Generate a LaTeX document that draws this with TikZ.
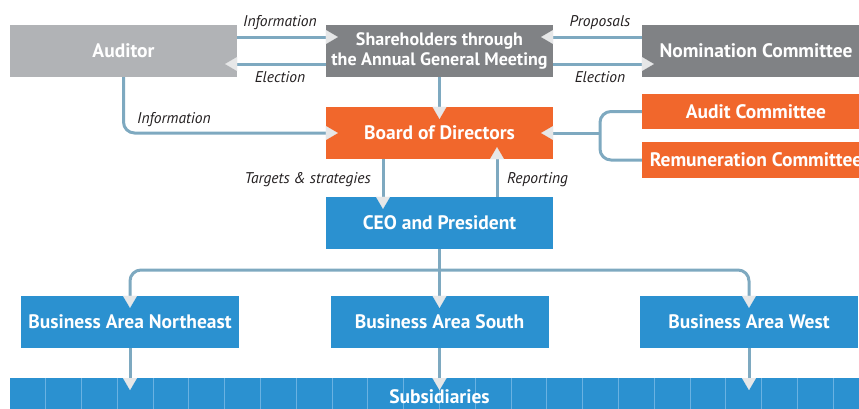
\documentclass[tikz,border=0pt]{standalone}
\usepackage{fontspec}
\setmainfont{PT Sans}
\usetikzlibrary{arrows.meta}

\definecolor{paleGray}{HTML}{B1B3B6}
\definecolor{darkGray}{HTML}{808285}
\definecolor{boardOrange}{HTML}{F1672C}
\definecolor{opsBlue}{HTML}{2B91D0}
\definecolor{linkBlue}{HTML}{7EA9C0}
\definecolor{tipGray}{HTML}{E6E7E8}
\definecolor{labelInk}{HTML}{231F20}
\definecolor{seamBlue}{HTML}{6AB2E2}

\tikzset{
  box/.style={draw=none, minimum height=52pt, inner sep=0pt, text=white,
    font=\fontsize{19.5}{20}\selectfont\bfseries, align=center},
  link/.style={draw=linkBlue, line width=3pt,
    -{Triangle[length=12pt,width=14pt,line width=0.1pt,fill=tipGray,color=tipGray]},
    shorten >=-12pt},
  plain/.style={draw=linkBlue, line width=3pt},
  tag/.style={text=labelInk, font=\fontsize{15.5}{17}\selectfont\itshape, inner sep=0pt}
}

\begin{document}
\begin{tikzpicture}[x=1pt, y=-1pt]
  \clip (0,0) rectangle (859,408);

  % governance level
  \node[box, fill=paleGray, minimum width=227pt] (auditor) at (123.5,51) {Auditor};
  \node[box, fill=darkGray, minimum width=227pt, font=\fontsize{18}{20}\selectfont\bfseries] (share) at (439.5,51)
    {Shareholders through\\the Annual General Meeting};
  \node[box, fill=darkGray, minimum width=228pt] (nom) at (756,51) {Nomination Committee};
  \node[box, fill=boardOrange, minimum width=227pt] (board) at (439.5,133) {Board of Directors};
  \node[box, fill=boardOrange, minimum width=228pt, minimum height=35pt] (audit) at (756,111.5) {Audit Committee};
  \node[box, fill=boardOrange, minimum width=228pt, minimum height=36pt] (remun) at (756,160) {Remuneration Committee};

  % operational level
  \node[box, fill=opsBlue, minimum width=227pt] (ceo) at (439.5,223) {CEO and President};
  \node[box, fill=opsBlue, minimum width=218pt] (bne) at (130,322) {Business Area Northeast};
  \node[box, fill=opsBlue, minimum width=218pt] (bs) at (439.5,322) {Business Area South};
  \node[box, fill=opsBlue, minimum width=218pt] (bw) at (749,322) {Business Area West};

  % subsidiaries band with its cell seams
  \node[box, fill=opsBlue, minimum width=860pt, minimum height=40pt, anchor=north west] (subs) at (10,378) {};
  \foreach \k in {0,...,22}
    \draw[seamBlue, line width=1pt] ({45.7+35.8*\k},378) -- ({45.7+35.8*\k},410);
  \node[box, minimum height=0pt] (substext) at (439.5,397) {Subsidiaries};

  % connectors between auditor, shareholders and nomination committee
  \draw[link] ([yshift=14pt]auditor.east) -- ([yshift=14pt]share.west);
  \draw[link] ([yshift=-13pt]share.west) -- ([yshift=-13pt]auditor.east);
  \draw[link] ([yshift=14pt]nom.west) -- ([yshift=14pt]share.east);
  \draw[link] ([yshift=-13pt]share.east) -- ([yshift=-13pt]nom.west);
  \draw[link] (share.south) -- (board.north);
  \draw[link, rounded corners=11pt] (auditor.south) |- (board.west);

  % committees bracket
  \coordinate (bracket) at (600,133);
  \draw[plain, rounded corners=11pt] (audit.west) -| (bracket) |- (remun.west);
  \draw[link] (bracket) -- (board.east);

  % board and CEO
  \draw[link] ([xshift=-56.5pt]board.south) -- ([xshift=-56.5pt]ceo.north);
  \draw[link] ([xshift=57.5pt]ceo.north) -- ([xshift=57.5pt]board.south);

  % CEO to business areas
  \coordinate (fork) at (439.5,270);
  \draw[link] (ceo.south) -- (bs.north);
  \draw[link, rounded corners=11pt] (fork) -| (bne.north);
  \draw[link, rounded corners=11pt] (fork) -| (bw.north);

  % business areas to subsidiaries
  \draw[link] (bne.south) -- (bne.south |- subs.north);
  \draw[link] (bs.south) -- (bs.south |- subs.north);
  \draw[link] (bw.south) -- (bw.south |- subs.north);

  % connector labels
  \node[tag] (l1) at (280,23) {Information};
  \node[tag] (l2) at (280,77) {Election};
  \node[tag] (l3) at (600,23) {Proposals};
  \node[tag] (l4) at (600,77) {Election};
  \node[tag] (l5) at (174,120) {Information};
  \node[tag, anchor=east] (l6) at (371,180) {Targets \& strategies};
  \node[tag, anchor=west] (l7) at (507,180) {Reporting};
\end{tikzpicture}
\end{document}
